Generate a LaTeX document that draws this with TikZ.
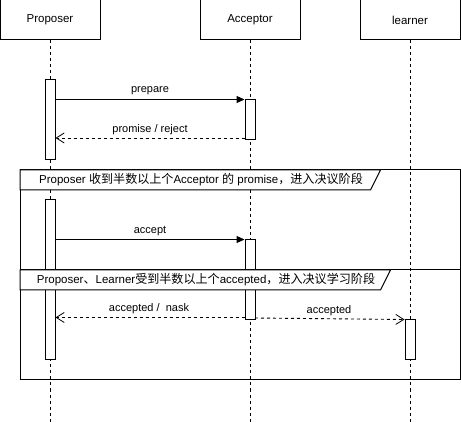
\documentclass[tikz,border=0pt]{standalone}
\usepackage{fontspec}
\setmainfont{Liberation Sans}
\newfontfamily\cjk[Scale=1.05]{Noto Sans CJK SC}
\usepackage{tikz}
\usetikzlibrary{arrows.meta,positioning,calc}
\pgfdeclarelayer{bg}
\pgfsetlayers{bg,main}

\begin{document}
\begin{tikzpicture}[x=1pt,y=-1pt,
    head/.style={draw,line width=1pt,minimum width=100pt,minimum height=40pt,font=\fontsize{11.5}{13}\selectfont},
    act/.style={draw,fill=white,line width=1pt,minimum width=10pt,inner sep=0pt},
    life/.style={line width=1pt,dash pattern=on 3pt off 3pt},
    msg/.style={line width=1pt,-{Triangle[length=8pt,width=7pt]}},
    reply/.style={line width=0.9pt,dash pattern=on 3pt off 3pt,-{Straight Barb[length=8pt,width=10pt,line width=0.8pt]}},
    lbl/.style={font=\fontsize{11}{13}\selectfont,inner sep=0pt},
    frm/.style={font=\fontsize{11.5}{13}\selectfont,inner sep=0pt}]
    \useasboundingbox (0,0) rectangle (461,422);

    % heads
    \node [head] (P) at (50,20) {Proposer};
    \node [head] (A) at (250,20) {Acceptor};
    \node [head] (L) at (410,20) {learner};
    \coordinate (Pend) at (50,422);
    \coordinate (Aend) at (250,422);
    \coordinate (Lend) at (410,422);
    \begin{pgfonlayer}{bg}    % lifelines
        \draw [life] (P) -- (Pend);
        \draw [life] (A) -- (Aend);
        \draw [life] (L) -- (Lend);
    \end{pgfonlayer}

    % activations
    \node [act,minimum height=80pt] (p1) at (50,120) {};
    \node [act,minimum height=160pt] (p2) at (50,280) {};
    \node [act,minimum height=40pt] (a1) at (250,120) {};
    \node [act,minimum height=80pt] (a2) at (250,280) {};
    \node [act,minimum height=40pt] (l1) at (410,340) {};

    % frames
    \draw [line width=1pt] (20,170) rectangle (460,270);
    \draw [line width=1pt,fill=white] (20,170) -- (380.5,170) -- (370.5,190) -- (20,190) -- cycle;
    \node [frm] (f1) at (201,180) {Proposer {\cjk 收到半数以上个}Acceptor {\cjk 的} promise{\cjk ，进入决议阶段}};
    \draw [line width=1pt] (20,270) rectangle (460,380);
    \draw [line width=1pt,fill=white] (20,270) -- (390.5,270) -- (380.5,290) -- (20,290) -- cycle;
    \node [frm] (f2) at (206,280) {Proposer{\cjk 、}Learner{\cjk 受到半数以上个}accepted{\cjk ，进入决议学习阶段}};

    % messages
    \coordinate (r1) at (245,138);
    \coordinate (r2) at (245,317.5);
    \coordinate (r3) at (255,318);
    \draw [msg] (p1.east |- a1.north) -- (a1.north west);
    \draw [reply] (r1) -- (p1.east |- r1);
    \draw [msg] (p2.east |- a2.north) -- (a2.north west);
    \draw [reply] (r2) -- (p2.east |- r2);
    \draw [reply] (r3) -- (l1.north west);
    \node [lbl] (m1) at (150,91) {prepare};
    \node [lbl] (m2) at (150,130) {promise / reject};
    \node [lbl] (m3) at (150,231) {accept};
    \node [lbl] (m4) at (149,308.5) {accepted / \ nask};
    \node [lbl] (m5) at (329,310.5) {accepted};
\end{tikzpicture}
\end{document}
